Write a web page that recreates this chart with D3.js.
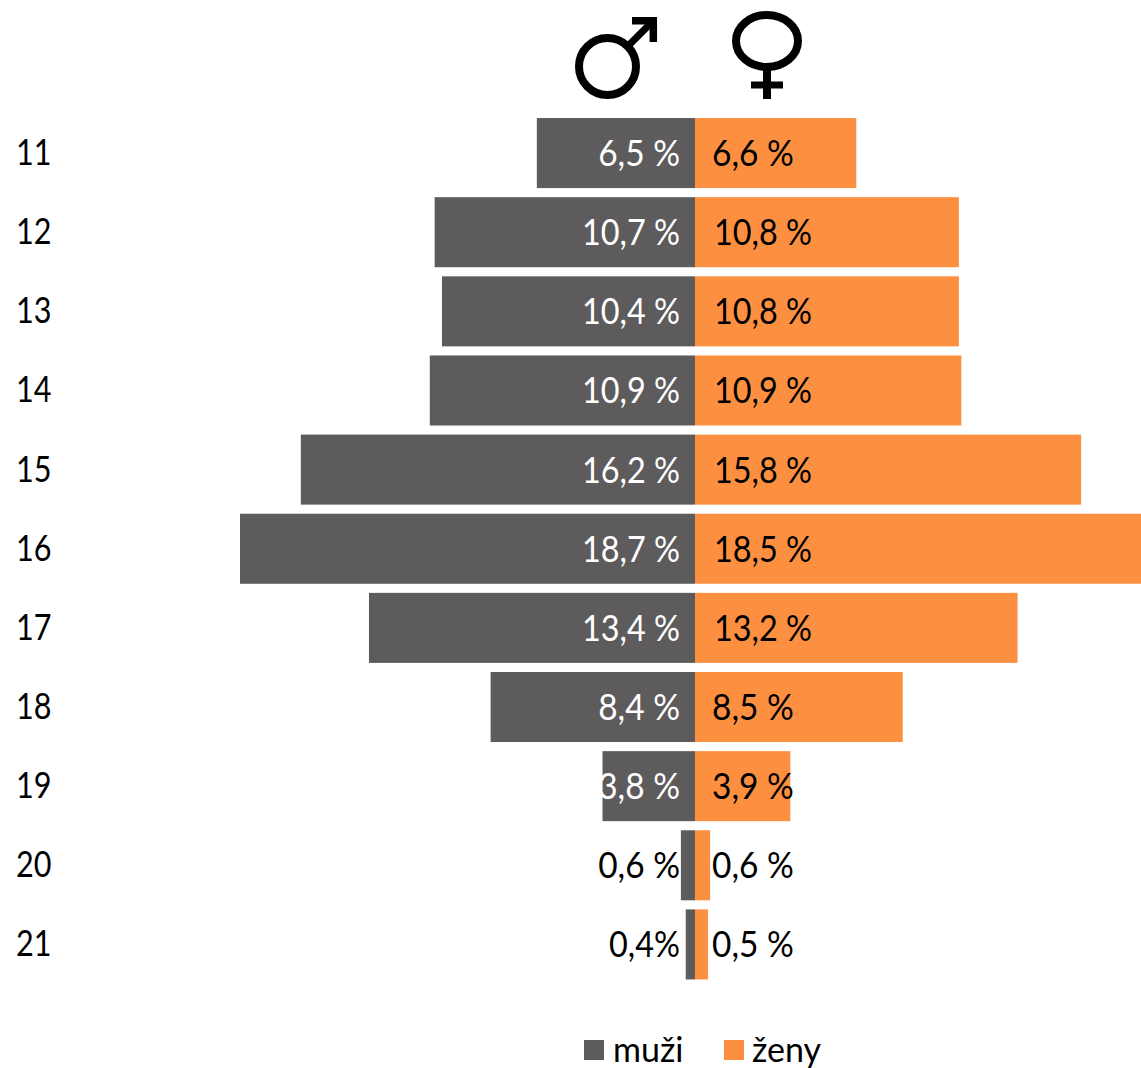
<!DOCTYPE html>
<html><head><meta charset="utf-8">
<script src="https://cdn.jsdelivr.net/npm/d3@7/dist/d3.min.js"></script>
<style>html,body{margin:0;padding:0;background:#fff;overflow:hidden}svg{display:block}text{font-family:Lato,sans-serif}</style>
</head><body><div id="c"></div>
<script>
const ages=["11","12","13","14","15","16","17","18","19","20","21"];
const male=[6.5,10.7,10.4,10.9,16.2,18.7,13.4,8.4,3.8,0.58,0.38];
const female=[6.6,10.8,10.8,10.9,15.8,18.5,13.2,8.5,3.9,0.62,0.53];
const maleLabels=["6,5 %","10,7 %","10,4 %","10,9 %","16,2 %","18,7 %","13,4 %","8,4 %","3,8 %","0,6 %","0,4%"];
const femaleLabels=["6,6 %","10,8 %","10,8 %","10,9 %","15,8 %","18,5 %","13,2 %","8,5 %","3,9 %","0,6 %","0,5 %"];
const legendNames=["muži","ženy"];
const colors=["#5d5b5c","#fd9040"];
const W=1141,H=1068,cx=695;
const svg=d3.select("#c").append("svg").attr("width",W).attr("height",H);
const xM=d3.scaleLinear().domain([0,18.7]).range([cx,240]);
const xF=d3.scaleLinear().domain([0,18.7]).range([cx,1152]);
const y=d3.scaleBand().domain(ages).range([113.5,984]).paddingInner(0.115).paddingOuter(0.0575);
const squeeze=fn=>function(d,i){const l=this.getComputedTextLength();d3.select(this).attr("textLength",l*fn(this.textContent)).attr("lengthAdjust","spacingAndGlyphs");};
const labelFit=t=>t.length===5?0.93:0.9;
svg.selectAll(".m").data(ages).join("rect").attr("class","m")
  .attr("x",(d,i)=>xM(male[i])).attr("y",d=>y(d)).attr("width",(d,i)=>cx-xM(male[i])).attr("height",y.bandwidth()).attr("fill",colors[0]);
svg.selectAll(".f").data(ages).join("rect").attr("class","f")
  .attr("x",cx).attr("y",d=>y(d)).attr("width",(d,i)=>xF(female[i])-cx).attr("height",y.bandwidth()).attr("fill",colors[1]);
const fs=36;
svg.selectAll(".lm").data(ages).join("text").attr("class","lm")
  .attr("x",680).attr("y",d=>y(d)+y.bandwidth()/2+13).attr("text-anchor","end").attr("font-size",fs)
  .attr("fill",(d,i)=>i<9?"#fff":"#000").text((d,i)=>maleLabels[i]).each(squeeze(labelFit));
svg.selectAll(".lf").data(ages).join("text").attr("class","lf")
  .attr("x",(d,i)=>femaleLabels[i].length>5?714:712).attr("y",d=>y(d)+y.bandwidth()/2+13).attr("font-size",fs)
  .attr("fill","#000").text((d,i)=>femaleLabels[i]).each(squeeze(labelFit));
svg.selectAll(".cat").data(ages).join("text").attr("class","cat")
  .attr("x",16).attr("y",d=>y(d)+y.bandwidth()/2+12).attr("font-size",36)
  .attr("fill","#000").text(d=>d).each(squeeze(()=>0.85));
// gender symbols
const g=svg.append("g").attr("fill","none").attr("stroke","#000").attr("stroke-width",8);
g.append("circle").attr("cx",607.5).attr("cy",66.5).attr("r",28.5);
g.append("path").attr("stroke-width",7).attr("d",d3.line()([[628,46],[653,21]]));
g.append("path").attr("stroke-width",7.5).attr("d",d3.line()([[632,20.7],[653.3,20.7],[653.3,42]]));
g.append("ellipse").attr("cx",767).attr("cy",41).attr("rx",31).attr("ry",26);
g.append("path").attr("d",d3.line()([[767,68],[767,99]]));
g.append("path").attr("stroke-width",7).attr("d",d3.line()([[751,85],[783,85]]));
// legend
const lx=[584,724], tx=[613,752];
legendNames.forEach((n,i)=>{
  svg.append("rect").attr("x",lx[i]).attr("y",1040).attr("width",20).attr("height",20).attr("fill",colors[i]);
  svg.append("text").attr("x",tx[i]).attr("y",1062).attr("font-size",34).attr("fill","#000").text(n);
});
</script></body></html>
